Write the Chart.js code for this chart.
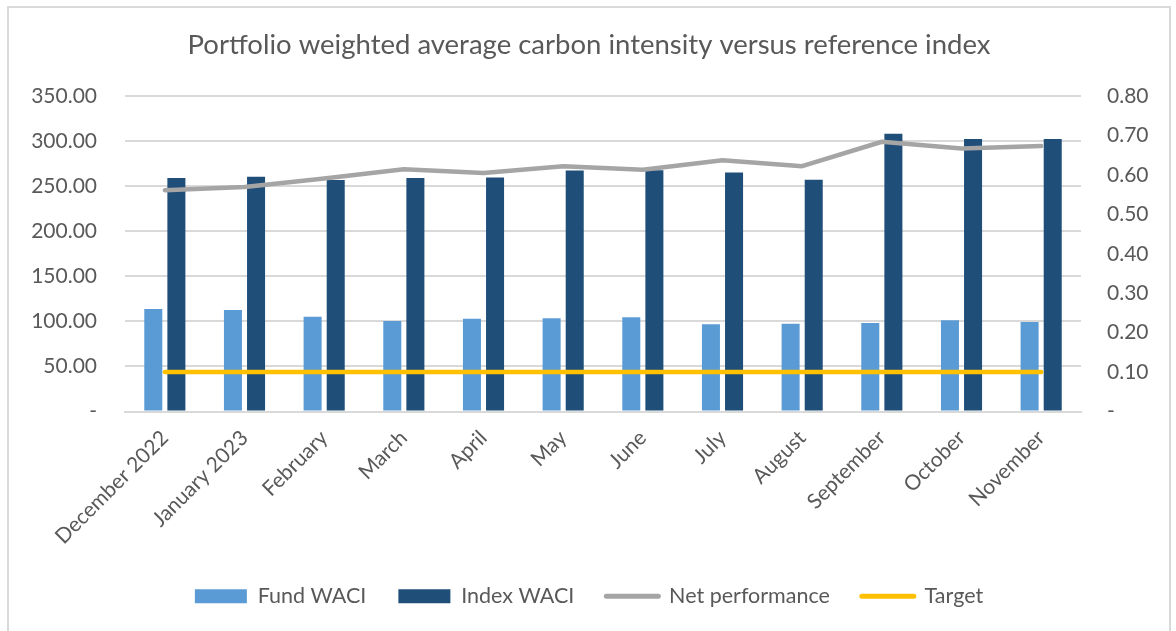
<!DOCTYPE html>
<html>
<head>
<meta charset="utf-8">
<script src="https://cdn.jsdelivr.net/npm/chart.js@4/dist/chart.umd.min.js"></script>
<style>
body { margin: 0; background: #fff; }
#wrap { position: absolute; left: 7px; top: 6px; width: 1164px; height: 640px; border: 2px solid #D9D9D9; box-sizing: border-box; }
#chart { display: block; }
</style>
</head>
<body>
<div id="wrap"><canvas id="chart" width="1160" height="620"></canvas></div>
<script>
var months = ['December 2022', 'January 2023', 'February', 'March', 'April', 'May', 'June', 'July', 'August', 'September', 'October', 'November']
var fundWaci = [113.8, 112.7, 105.2, 100.4, 103.0, 103.4, 104.5, 96.7, 97.4, 98.2, 101.1, 99.3]
var indexWaci = [259.0, 260.4, 256.7, 259.0, 259.7, 267.4, 267.6, 265.2, 257.0, 308.2, 302.2, 302.2]
var netPerformance = [0.561, 0.569, 0.591, 0.614, 0.605, 0.622, 0.613, 0.637, 0.622, 0.684, 0.667, 0.673]
var target = [0.10, 0.10, 0.10, 0.10, 0.10, 0.10, 0.10, 0.10, 0.10, 0.10, 0.10, 0.10]
var leftTicks = [0, 50, 100, 150, 200, 250, 300, 350]
var rightTicks = [0, 0.1, 0.2, 0.3, 0.4, 0.5, 0.6, 0.7, 0.8]

var grey = '#595959'
var fontName = 'Lato'

function dashZero(v) {
    if (v == 0) return '-'
    return Number(v).toFixed(2)
}

var ctx = document.getElementById('chart').getContext('2d')
var myChart = new Chart(ctx, {
    type: 'bar',
    data: {
        labels: months,
        datasets: [{
            label: 'Fund WACI',
            data: fundWaci,
            backgroundColor: '#5B9BD5',
            yAxisID: 'y',
            order: 2,
            categoryPercentage: 0.58,
            barPercentage: 0.78
        }, {
            label: 'Index WACI',
            data: indexWaci,
            backgroundColor: '#1F4E79',
            yAxisID: 'y',
            order: 2,
            categoryPercentage: 0.58,
            barPercentage: 0.78
        }, {
            type: 'line',
            label: 'Net performance',
            data: netPerformance,
            borderColor: '#A5A5A5',
            backgroundColor: '#A5A5A5',
            borderWidth: 4.5,
            borderCapStyle: 'round',
            borderJoinStyle: 'round',
            pointRadius: 0,
            yAxisID: 'y1',
            order: 1
        }, {
            type: 'line',
            label: 'Target',
            data: target,
            borderColor: '#FFC000',
            backgroundColor: '#FFC000',
            borderWidth: 4.5,
            borderCapStyle: 'round',
            pointRadius: 0,
            yAxisID: 'y1',
            order: 0
        }]
    },
    options: {
        responsive: false,
        animation: false,
        layout: { padding: { left: 0, right: 0, top: 0, bottom: 11 } },
        plugins: {
            title: {
                display: true,
                text: 'Portfolio weighted average carbon intensity versus reference index',
                color: grey,
                font: { family: fontName, size: 27.5, weight: 'normal' },
                padding: { top: 21, bottom: 34 }
            },
            legend: {
                position: 'bottom',
                labels: {
                    color: grey,
                    font: { family: fontName, size: 21.5 },
                    usePointStyle: true,
                    pointStyleWidth: 52,
                    boxHeight: 14,
                    padding: 32,
                    generateLabels: function(chart) {
                        return chart.data.datasets.map(function(ds, i) {
                            var isLine = ds.type == 'line'
                            return {
                                text: ds.label,
                                fillStyle: ds.backgroundColor,
                                strokeStyle: isLine ? ds.borderColor : ds.backgroundColor,
                                lineWidth: isLine ? 5 : 0,
                                lineCap: 'round',
                                pointStyle: isLine ? 'line' : 'rect',
                                fontColor: grey,
                                datasetIndex: i
                            }
                        })
                    }
                }
            },
            tooltip: { enabled: false }
        },
        scales: {
            x: {
                grid: { display: false, drawTicks: false },
                border: { color: '#D9D9D9', width: 2 },
                afterFit: function(scale) { scale.height = 142 },
                ticks: {
                    color: grey,
                    font: { family: fontName, size: 21 },
                    minRotation: 45,
                    maxRotation: 45,
                    padding: 14
                }
            },
            y: {
                position: 'left',
                min: 0,
                max: 350,
                afterBuildTicks: function(scale) {
                    scale.ticks = leftTicks.map(function(v) { return { value: v } })
                },
                afterFit: function(scale) { scale.width = 116 },
                grid: { color: '#D9D9D9', lineWidth: 2, drawTicks: false },
                border: { display: false },
                ticks: {
                    color: grey,
                    font: { family: fontName, size: 21 },
                    padding: 28,
                    callback: dashZero
                }
            },
            y1: {
                position: 'right',
                min: 0,
                max: 0.8,
                afterBuildTicks: function(scale) {
                    scale.ticks = rightTicks.map(function(v) { return { value: v } })
                },
                afterFit: function(scale) { scale.width = 88 },
                grid: { drawOnChartArea: false, drawTicks: false },
                border: { display: false },
                ticks: {
                    color: grey,
                    font: { family: fontName, size: 21 },
                    padding: 26,
                    callback: dashZero
                }
            }
        }
    }
})
</script>
</body>
</html>
